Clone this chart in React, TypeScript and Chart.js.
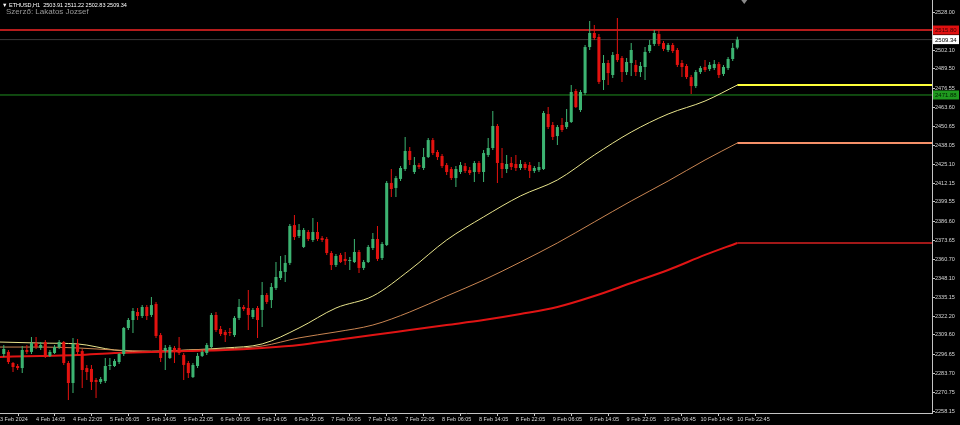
import { useEffect, useRef } from "react";
import { Chart, registerables } from "chart.js";

Chart.register(...registerables);

const symbolTitle = "ETHUSD,H1";
const authorText = "Szerző: Lakatos Jozsef";

const opens = [2296.7,2298.1,2290.6,2288.6,2287.2,2299.4,2298.1,2304.1,2300.8,2304.8,
2295.4,2297.4,2301.4,2304.8,2290.6,2277.1,2303.5,2298.7,2287.2,2286.6,
2279.1,2277.8,2278.4,2288.6,2288.6,2291.3,2296.7,2314.3,2319.7,2325.1,
2322.4,2328.5,2323.1,2330.5,2309.5,2298.7,2294.0,2300.8,2300.8,2296.0,
2290.6,2281.1,2288.6,2295.4,2297.4,2301.4,2323.1,2313.6,2311.6,2311.6,
2309.5,2321.1,2328.5,2327.8,2321.7,2327.8,2326.5,2336.6,2333.2,2341.3,
2348.1,2352.2,2358.3,2383.9,2376.5,2369.1,2379.2,2373.8,2379.2,2375.1,
2374.5,2365.0,2356.9,2363.7,2361.0,2359.6,2358.9,2365.7,2354.9,2358.9,
2368.4,2374.5,2361.6,2370.4,2412.4,2409.0,2415.1,2421.8,2434.0,2419.8,
2424.5,2422.5,2429.9,2441.4,2433.3,2430.6,2424.5,2421.8,2415.7,2419.8,
2423.8,2421.1,2419.8,2425.9,2419.8,2431.3,2436.0,2450.9,2425.9,2421.8,
2425.9,2425.2,2422.5,2425.2,2424.5,2420.5,2421.1,2421.8,2459.0,2451.6,
2444.1,2451.6,2450.2,2453.6,2474.6,2461.7,2473.2,2504.3,2513.8,2511.1,
2482.0,2493.5,2485.4,2499.6,2496.9,2487.4,2493.5,2492.2,2487.4,2490.8,
2501.6,2506.4,2513.1,2507.0,2502.3,2505.7,2502.3,2493.5,2491.5,2484.0,
2477.9,2487.4,2490.8,2489.4,2490.1,2492.8,2486.1,2490.1,2496.2,2503.91];

const highs = [2302.8,2299.4,2291.3,2289.9,2302.1,2302.8,2308.2,2308.2,2304.8,2306.2,
2299.4,2302.8,2306.2,2305.5,2292.0,2307.6,2306.9,2300.1,2289.3,2289.3,
2280.5,2281.1,2294.0,2294.0,2293.3,2297.4,2315.0,2321.1,2327.8,2327.8,
2329.8,2329.8,2335.2,2331.9,2310.9,2302.8,2302.8,2302.1,2308.2,2297.4,
2292.0,2290.6,2297.4,2299.4,2304.1,2324.4,2325.1,2315.6,2312.9,2314.3,
2322.4,2333.9,2329.8,2340.0,2327.8,2329.2,2345.4,2337.9,2344.7,2358.9,
2363.0,2363.7,2384.6,2390.7,2384.6,2381.9,2380.6,2388.7,2386.0,2376.5,
2375.8,2366.4,2364.3,2365.0,2365.7,2362.3,2374.5,2367.0,2360.3,2370.4,
2378.5,2383.3,2372.4,2413.7,2421.8,2417.1,2423.8,2443.5,2436.7,2429.9,
2425.9,2436.0,2442.8,2442.8,2434.7,2432.0,2425.9,2423.2,2423.8,2426.6,
2425.9,2423.2,2427.2,2427.2,2434.7,2442.8,2461.0,2452.3,2436.0,2431.3,
2429.9,2431.3,2427.9,2426.6,2426.6,2423.8,2426.6,2461.0,2463.7,2453.6,
2451.6,2456.3,2462.4,2478.6,2475.9,2475.2,2505.7,2521.9,2519.2,2513.1,
2498.9,2495.5,2501.0,2523.9,2498.2,2496.9,2507.0,2495.5,2494.2,2504.3,
2509.1,2515.8,2515.8,2508.4,2507.0,2507.0,2503.7,2495.5,2492.8,2485.4,
2488.8,2491.5,2495.5,2494.2,2495.5,2494.2,2492.2,2497.6,2507.0,2511.22];

const lows = [2294.7,2289.9,2284.5,2285.9,2283.8,2296.7,2296.7,2300.1,2299.4,2294.0,
2294.7,2296.7,2300.1,2289.3,2265.6,2270.3,2296.7,2273.7,2279.1,2272.3,
2266.9,2276.4,2277.1,2285.9,2287.9,2289.9,2295.4,2312.9,2310.9,2319.7,
2321.1,2319.7,2321.7,2307.6,2291.3,2285.9,2293.3,2290.6,2296.0,2279.1,
2280.5,2280.5,2287.2,2294.7,2296.0,2300.8,2311.6,2308.9,2304.8,2308.9,
2308.2,2319.7,2325.8,2312.9,2320.4,2307.6,2315.0,2330.5,2327.8,2340.0,
2346.7,2345.4,2356.9,2373.8,2375.1,2368.4,2373.1,2372.4,2373.1,2372.4,
2363.7,2353.5,2355.5,2358.3,2356.9,2353.5,2358.3,2351.5,2353.5,2358.3,
2367.0,2359.6,2360.3,2369.7,2402.9,2402.9,2413.7,2420.5,2424.5,2418.4,
2421.8,2421.1,2429.3,2431.3,2427.9,2422.5,2417.8,2414.4,2409.6,2418.4,
2419.1,2417.8,2413.0,2418.4,2413.0,2429.9,2434.7,2412.4,2415.7,2419.1,
2421.1,2420.5,2421.1,2421.1,2415.7,2419.1,2419.8,2421.1,2448.9,2441.4,
2438.1,2446.8,2448.9,2452.9,2463.1,2460.4,2471.9,2502.3,2509.1,2479.3,
2475.2,2478.6,2483.4,2494.2,2480.7,2485.4,2484.7,2484.7,2484.0,2482.0,
2500.3,2505.0,2505.0,2501.6,2501.0,2500.3,2490.8,2484.0,2482.7,2472.5,
2476.6,2486.1,2487.4,2488.1,2488.8,2483.4,2484.7,2488.8,2494.9,2502.83];

const closes = [2300.1,2291.3,2287.9,2287.2,2299.4,2298.1,2304.1,2301.4,2302.8,2294.7,
2298.1,2301.4,2304.8,2290.6,2277.1,2303.5,2298.1,2285.9,2284.5,2277.8,
2277.8,2279.8,2288.6,2289.3,2292.0,2296.7,2314.3,2319.7,2325.8,2322.4,
2328.5,2322.4,2329.8,2308.9,2294.0,2300.8,2301.4,2298.1,2297.4,2289.3,
2283.8,2289.3,2295.4,2298.1,2302.8,2323.1,2312.9,2310.2,2309.5,2310.9,
2321.1,2328.5,2327.1,2323.1,2326.5,2319.7,2336.6,2331.9,2342.0,2348.8,
2352.8,2358.3,2383.3,2375.8,2380.6,2380.6,2374.5,2379.2,2374.5,2373.8,
2365.0,2356.9,2363.0,2358.9,2359.6,2360.3,2365.7,2354.9,2358.9,2369.1,
2374.5,2361.0,2371.1,2412.4,2408.3,2415.7,2422.5,2434.0,2427.9,2424.5,
2423.2,2429.9,2441.4,2432.6,2429.9,2423.8,2419.8,2415.7,2421.8,2424.5,
2420.5,2419.1,2425.9,2419.8,2432.6,2436.0,2450.9,2425.9,2421.8,2425.2,
2423.2,2422.5,2425.2,2422.5,2420.5,2422.5,2423.2,2459.7,2450.2,2443.5,
2450.2,2448.2,2453.6,2473.9,2463.7,2473.9,2504.3,2513.8,2510.4,2480.7,
2493.5,2486.7,2498.9,2495.5,2487.4,2494.2,2502.3,2487.4,2491.5,2501.0,
2505.7,2513.8,2506.4,2503.0,2505.7,2501.6,2492.2,2490.8,2484.0,2477.9,
2487.4,2490.1,2488.8,2492.2,2492.8,2485.4,2490.8,2496.2,2503.7,2509.34];

// moving averages read at these bar numbers (bar -1 is just off the left edge)
const maBars = [-1,8,16,24,32,40,48,56,64,72,80,88,96,104,112,120,128,136,144,152,159];
const maFast = [2304.8,2304.1,2303.5,2299.4,2298.1,2299.4,2300.8,2303.5,2314.3,2327.8,2335.9,2353.5,2373.8,2389.4,2403.6,2414.4,2431.3,2446.8,2459.0,2467.8,2478.6];
const maMid = [2301.4,2301.4,2300.8,2299.4,2298.7,2299.4,2300.1,2302.1,2307.6,2311.6,2316.3,2325.1,2335.9,2346.7,2358.9,2371.8,2386.0,2400.2,2413.7,2427.9,2439.4];
const maSlow = [2294.7,2295.4,2296.0,2297.4,2298.1,2298.7,2299.4,2300.8,2302.8,2306.2,2309.5,2312.9,2316.3,2319.7,2323.8,2328.5,2335.9,2344.7,2353.5,2363.7,2371.8];

const resistanceLevel = 2515.8;
const supportLevel = 2471.88;

const yTicks = [2528.0,2515.05,2502.1,2489.5,2476.55,2463.6,2450.65,2438.05,2425.1,2412.15,2399.55,2386.6,2373.65,2360.7,2348.1,2335.15,2322.2,2309.6,2296.65,2283.7,2270.75,2258.15];

const firstDateLabel = "3 Feb 2024";
const timeLabels = ["4 Feb 14:05","4 Feb 22:05","5 Feb 06:05","5 Feb 14:05","5 Feb 22:05","6 Feb 06:05","6 Feb 14:05","6 Feb 22:05","7 Feb 06:05","7 Feb 14:05","7 Feb 22:05","8 Feb 06:05","8 Feb 14:05","8 Feb 22:05","9 Feb 06:05","9 Feb 14:05","9 Feb 22:05","10 Feb 06:45","10 Feb 14:45","10 Feb 22:45"];
const firstLabelBar = 7;
const barsPerLabel = 8;

const X_MIN = -0.82;
const X_MAX = 201.2;
const Y_MIN = 2256.8;
const Y_MAX = 2536.12;

const BULL = "#3cb371";
const BEAR = "#e3120f";
const AXIS = "#c4c4c4";
const FONT = "'Liberation Sans', Arial, sans-serif";

export default function App() {
  const ref = useRef<HTMLCanvasElement | null>(null);

  useEffect(() => {
    document.body.style.margin = "0";
    document.body.style.background = "#000";
    const canvas = ref.current;
    if (!canvas) return;

    const n = closes.length;
    const last = n - 1;
    const bodies = closes.map((c, i) => ({ x: i, y: [opens[i], c] }));
    const wicks = closes.map((_, i) => ({ x: i, y: [lows[i], highs[i]] }));
    const colors = closes.map((c, i) => (c >= opens[i] ? BULL : BEAR));
    const labelMap = new Map<number, string>();
    labelMap.set(X_MIN, firstDateLabel);
    timeLabels.forEach((t, k) => labelMap.set(firstLabelBar + k * barsPerLabel, t));
    const tickValues = Array.from(labelMap.keys());

    const maLine = (arr: number[]) => arr.map((v, k) => ({ x: maBars[k], y: v }));
    const ext = (arr: number[]) => [
      { x: maBars[maBars.length - 1], y: arr[arr.length - 1] },
      { x: X_MAX, y: arr[arr.length - 1] },
    ];
    const level = (v: number) => [
      { x: X_MIN, y: v },
      { x: X_MAX, y: v },
    ];
    const bid = closes[last];

    const lineDs = (label: string, data: any[], color: string, width: number, order: number, smooth = false) => ({
      type: "line" as const,
      label,
      data,
      borderColor: color,
      borderWidth: width,
      pointRadius: 0,
      fill: false,
      order,
      cubicInterpolationMode: smooth ? ("monotone" as const) : ("default" as const),
    });

    const overlay = {
      id: "mtOverlay",
      afterDraw(chart: any) {
        const ctx = chart.ctx;
        const y = chart.scales.y;
        const x = chart.scales.x;
        ctx.save();
        const tags = [
          { v: resistanceLevel, bg: "#e01010", fg: "#3a0000" },
          { v: bid, bg: "#ffffff", fg: "#000000" },
          { v: supportLevel, bg: "#1f9a1f", fg: "#002200" },
        ];
        ctx.font = `6px ${FONT}`;
        ctx.textBaseline = "middle";
        ctx.textAlign = "left";
        for (const t of tags) {
          const py = y.getPixelForValue(t.v);
          ctx.fillStyle = t.bg;
          ctx.fillRect(chart.chartArea.right + 1, py - 4.5, 26, 9);
          ctx.fillStyle = t.fg;
          ctx.fillText(t.v.toFixed(2), chart.chartArea.right + 3, py + 0.5);
        }
        ctx.fillStyle = "#ffffff";
        ctx.font = `5.5px ${FONT}`;
        ctx.textBaseline = "middle";
        ctx.fillText(
          `▼ ${symbolTitle}  ${opens[last].toFixed(2)} ${highs[last].toFixed(2)} ${lows[last].toFixed(2)} ${closes[last].toFixed(2)}`,
          2,
          5
        );
        ctx.fillStyle = "#9a9a9a";
        ctx.font = `8px ${FONT}`;
        ctx.fillText(authorText, 6, 12);
        const sx = x.getPixelForValue(last + 1.5);
        ctx.fillStyle = "#8a8a8a";
        ctx.beginPath();
        ctx.moveTo(sx - 3, 0);
        ctx.lineTo(sx + 3, 0);
        ctx.lineTo(sx, 4);
        ctx.closePath();
        ctx.fill();
        ctx.restore();
      },
    };

    const chart = new Chart(canvas, {
      type: "bar",
      data: {
        datasets: [
          lineDs("res", level(resistanceLevel), "#b51c1c", 2, 9),
          lineDs("bid", level(bid), "#3a3a3a", 1, 9),
          lineDs("sup", level(supportLevel), "#1f8f1f", 1, 9),
          lineDs("maSlow", maLine(maSlow), "#e01414", 2, 6, true),
          lineDs("maMid", maLine(maMid), "#c98552", 1, 6, true),
          lineDs("maFast", maLine(maFast), "#e8e48c", 1, 6, true),
          lineDs("maSlowExt", ext(maSlow), "#a11818", 2, 6),
          lineDs("maMidExt", ext(maMid), "#f59068", 2, 6),
          lineDs("maFastExt", ext(maFast), "#ffff3a", 2, 6),
          {
            type: "bar" as const,
            label: "wick",
            data: wicks as any,
            backgroundColor: colors,
            grouped: false,
            categoryPercentage: 1,
            barPercentage: 0.22,
            order: 2,
          },
          {
            type: "bar" as const,
            label: "body",
            data: bodies as any,
            backgroundColor: colors,
            grouped: false,
            categoryPercentage: 1,
            barPercentage: 0.66,
            minBarLength: 1,
            order: 1,
          },
        ] as any,
      },
      options: {
        animation: false,
        responsive: true,
        maintainAspectRatio: false,
        layout: { padding: 0 },
        plugins: { legend: { display: false }, tooltip: { enabled: false } },
        scales: {
          x: {
            type: "linear",
            min: X_MIN,
            max: X_MAX,
            bounds: "data",
            offset: false,
            afterBuildTicks: (s: any) => {
              s.ticks = tickValues.map((v) => ({ value: v }));
            },
            afterFit: (s: any) => {
              s.height = 12;
              s.paddingLeft = 0;
              s.paddingRight = 0;
            },
            ticks: {
              autoSkip: false,
              maxRotation: 0,
              minRotation: 0,
              align: "start",
              padding: 0,
              color: "#d8d8d8",
              font: { size: 5.5, family: FONT },
              callback: (v: any) => labelMap.get(Number(v)) ?? "",
            },
            grid: { drawOnChartArea: false, tickLength: 3, color: AXIS },
            border: { display: true, color: AXIS },
          },
          y: {
            type: "linear",
            position: "right",
            min: Y_MIN,
            max: Y_MAX,
            bounds: "data",
            afterBuildTicks: (s: any) => {
              s.ticks = yTicks.map((v) => ({ value: v }));
            },
            afterFit: (s: any) => {
              s.width = 28;
              s.paddingTop = 0;
              s.paddingBottom = 0;
            },
            ticks: {
              autoSkip: false,
              padding: 0,
              color: "#d8d8d8",
              font: { size: 5.5, family: FONT },
              callback: (v: any) => Number(v).toFixed(2),
            },
            grid: { drawOnChartArea: false, tickLength: 3, color: AXIS },
            border: { display: true, color: AXIS },
          },
        },
      } as any,
      plugins: [overlay],
    });
    return () => chart.destroy();
  }, []);

  return (
    <div style={{ position: "fixed", left: 0, top: 0, width: 960, height: 425, background: "#000" }}>
      <canvas ref={ref} />
    </div>
  );
}
